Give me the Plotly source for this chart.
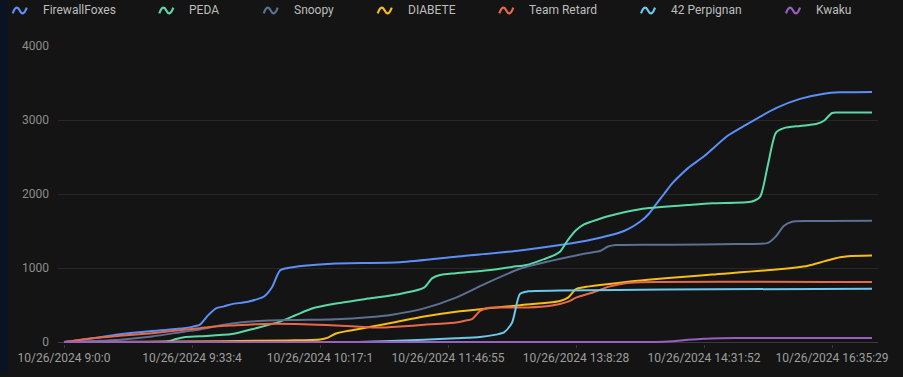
import plotly.graph_objects as go

# ---------------- data ----------------
tick_index = [0, 16, 32, 48, 64, 80, 96]
tick_labels = ["10/26/2024 9:0:0", "10/26/2024 9:33:4", "10/26/2024 10:17:1",
               "10/26/2024 11:46:55", "10/26/2024 13:8:28", "10/26/2024 14:31:52",
               "10/26/2024 16:35:29"]
y_ticks = [0, 1000, 2000, 3000, 4000]

team_names = ["FirewallFoxes", "PEDA", "Snoopy", "DIABETE", "Team Retard", "42 Perpignan", "Kwaku"]
team_colors = ["#5B8FF9", "#5AD8A6", "#5D7092", "#F6BD16", "#E8684A", "#6DC8EC", "#9A5FC0"]

foxes_x = [0, 3, 7, 11, 15, 16, 17, 18, 19, 20, 21, 23, 25, 26, 27, 28, 30, 34, 42, 49, 57, 62, 66,
           70, 72, 73, 74, 75, 76, 77, 78, 80, 83, 85, 89, 92, 95, 97, 101]
foxes_y = [0, 40, 105, 150, 185, 205, 236, 360, 455, 482, 512, 545, 615, 740, 968, 1000, 1030, 1062,
           1078, 1152, 1238, 1310, 1385, 1500, 1625, 1720, 1860, 2000, 2140, 2250, 2350, 2510, 2790,
           2920, 3160, 3285, 3355, 3374, 3380]

peda_x = [0, 12, 13, 14, 15, 17, 21, 24, 27, 29, 31, 34, 38, 42, 45, 46, 47, 49, 53, 56, 58, 60,
          61, 62, 63, 64, 65, 66, 68, 72, 78, 81, 86, 87, 88, 89, 90, 92, 94, 95, 96, 97, 101]
peda_y = [0, 3, 10, 40, 65, 78, 107, 187, 276, 365, 453, 520, 587, 650, 735, 860, 905, 930, 970,
          1015, 1045, 1120, 1160, 1220, 1380, 1510, 1590, 1630, 1700, 1795, 1850, 1875, 1899, 1960,
          2400, 2830, 2890, 2920, 2945, 2990, 3095, 3100, 3100]

snoopy_x = [0, 4, 7, 11, 15, 17, 20, 22, 25, 29, 34, 38, 41, 45, 49, 53, 57, 61, 64, 66, 67, 68,
            69, 76, 84, 88, 89, 90, 91, 93, 101]
snoopy_y = [0, 15, 32, 76, 140, 170, 235, 265, 288, 298, 308, 335, 370, 455, 600, 805, 990, 1100,
            1170, 1210, 1230, 1290, 1310, 1315, 1325, 1340, 1430, 1570, 1625, 1635, 1640]

diabete_x = [0, 10, 20, 28, 32, 33, 34, 36, 38, 41, 45, 49, 53, 57, 61, 62, 63, 64, 65, 67, 71, 73,
             78, 81, 89, 93, 95, 97, 98, 101]
diabete_y = [0, 5, 12, 22, 35, 60, 115, 160, 200, 260, 345, 410, 455, 497, 538, 555, 600, 715, 740,
             770, 820, 842, 885, 912, 979, 1032, 1090, 1145, 1160, 1168]

retard_x = [0, 3, 7, 11, 15, 17, 20, 21, 25, 30, 34, 38, 40, 42, 45, 49, 50, 51, 52, 53, 55, 58,
            61, 62, 63, 64, 66, 68, 70, 72, 101]
retard_y = [0, 45, 85, 120, 165, 187, 219, 225, 245, 240, 223, 200, 195, 209, 232, 265, 285, 310,
            420, 460, 465, 468, 495, 515, 545, 600, 665, 745, 792, 808, 810]

perpignan_x = [0, 36, 40, 45, 49, 52, 54, 55, 56, 57, 58, 62, 75, 101]
perpignan_y = [0, 0, 10, 30, 50, 68, 100, 130, 260, 650, 685, 695, 710, 720]

kwaku_x = [0, 74, 76, 78, 80, 82, 85, 101]
kwaku_y = [0, 0, 10, 30, 45, 52, 55, 55]

series_x = [foxes_x, peda_x, snoopy_x, diabete_x, retard_x, perpignan_x, kwaku_x]
series_y = [foxes_y, peda_y, snoopy_y, diabete_y, retard_y, perpignan_y, kwaku_y]

# ---------------- figure ----------------
W, H = 903, 377
ML, MR, MT, MB = 58, 25, 46, 29
PW, PH = W - ML - MR, H - MT - MB
Y_MIN = -4000 * 2 / 300  # 2px below the zero line so the bottom series is not clipped


def X(px):
    return (px - ML) / PW


def Y(py):
    return (H - MB - py) / PH


fig = go.Figure()
for name, color, xs, ys in zip(team_names, team_colors, series_x, series_y):
    fig.add_trace(go.Scatter(
        x=xs, y=ys, name=name, mode="lines",
        line=dict(color=color, width=2, shape="spline", smoothing=0.7),
        showlegend=False,
    ))

shapes = [
    dict(type="rect", xref="paper", yref="paper", x0=X(0), x1=X(8), y0=Y(H), y1=Y(0),
         fillcolor="#0a1224", line=dict(width=0), layer="below"),
]
annotations = []
legend_text_x = [40.7, 187.3, 291.7, 405.7, 527.3, 669, 814]
for name, color, tx in zip(team_names, team_colors, legend_text_x):
    x0 = tx - 28
    path = (f"M{X(x0)},{Y(13)} Q{X(x0 + 3.5)},{Y(3)} {X(x0 + 7)},{Y(10)} "
            f"T{X(x0 + 14)},{Y(7)}")
    shapes.append(dict(type="path", xref="paper", yref="paper", path=path,
                       line=dict(color=color, width=2.2), fillcolor="rgba(0,0,0,0)"))
    annotations.append(dict(xref="paper", yref="paper", x=X(tx), y=Y(10),
                            xanchor="left", yanchor="middle", showarrow=False, text=name,
                            font=dict(family="Roboto", size=12, color="#bdbdbd")))

fig.update_layout(
    width=W, height=H,
    margin=dict(l=ML, r=MR, t=MT, b=MB, pad=0),
    paper_bgcolor="#141414", plot_bgcolor="#141414",
    font=dict(family="Roboto", size=12, color="#9e9e9e"),
    shapes=shapes, annotations=annotations,
    xaxis=dict(range=[-0.75, 101.75], tickmode="array", tickvals=tick_index, ticktext=tick_labels,
               showgrid=False, zeroline=False, showline=False,
               ticks="outside", ticklen=3, tickcolor="#3a3a3a",
               tickfont=dict(family="Roboto", size=12, color="#9e9e9e")),
    yaxis=dict(range=[Y_MIN, 4000], tickmode="array", tickvals=y_ticks,
               showgrid=True, gridcolor="#272727", gridwidth=1,
               zeroline=True, zerolinecolor="#3a3a3a", zerolinewidth=1, showline=False,
               ticks="", ticklabelstandoff=8,
               tickfont=dict(family="Roboto", size=12, color="#8c8c8c")),
    hovermode=False,
)

fig.write_html(
    "out.html",
    config={"displayModeBar": False},
    post_script="document.body.style.margin='0';document.body.style.background='#141414';",
)
